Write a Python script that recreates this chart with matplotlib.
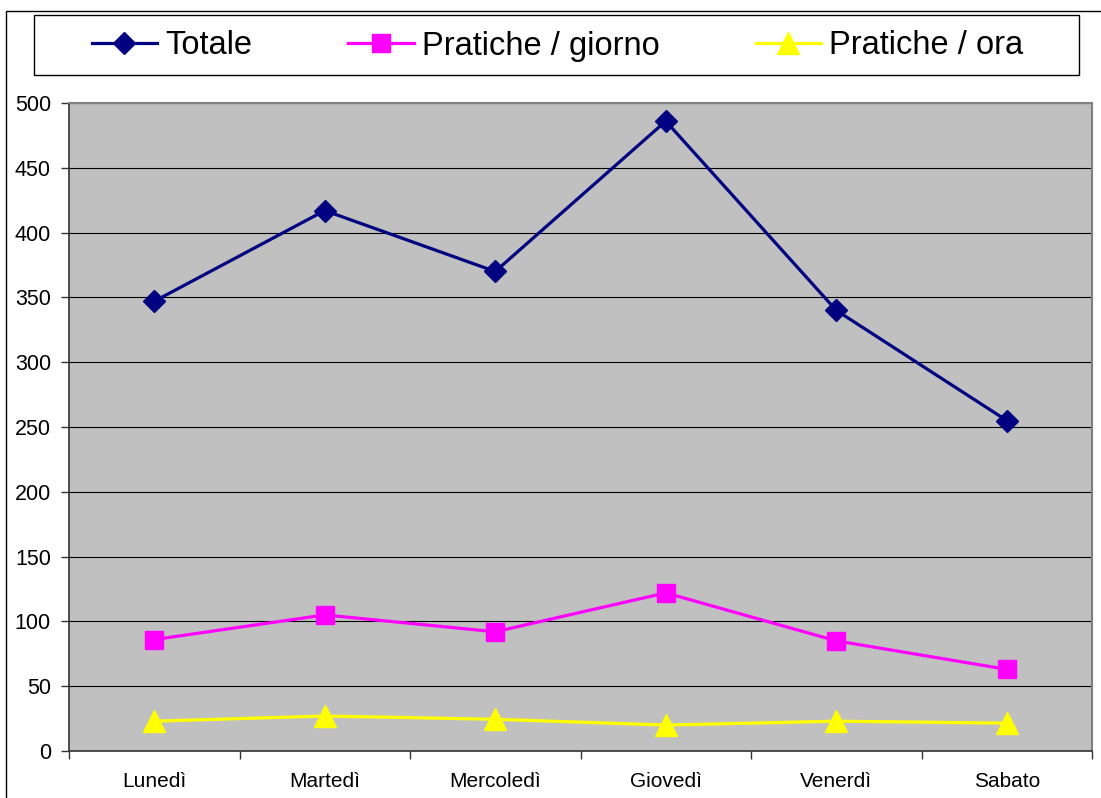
import matplotlib.pyplot as plt
import matplotlib.patches as patches
import numpy as np

plt.rcParams['font.family'] = ['Liberation Sans', 'DejaVu Sans']

giorni = ['Lunedì', 'Martedì', 'Mercoledì', 'Giovedì', 'Venerdì', 'Sabato']
totale = [347, 417, 370, 486, 340, 255]
pratiche_giorno = [86, 105, 92, 122, 85, 63]
pratiche_ora = [23, 27, 24.5, 20, 23, 21.5]

W, H = 1101, 798
fig = plt.figure(figsize=(W / 100, H / 100), dpi=100)
fig.patch.set_facecolor('white')

# chart area border (runs off the right/bottom edge)
fig.patches.append(patches.Rectangle((6 / W, -0.1), 2, 1 - 11 / H + 0.1,
                                     transform=fig.transFigure, fill=False,
                                     edgecolor='black', linewidth=1))

ax = fig.add_axes([69 / W, 47 / H, 1023 / W, 648 / H])
ax.set_facecolor('#c0c0c0')
ind = np.arange(len(giorni))

ax.plot(ind, totale, color='#000080', lw=2.3, marker='D', ms=11, mew=1,
        label='Totale', zorder=3)
ax.plot(ind, pratiche_giorno, color='#ff00ff', lw=2.3, marker='s', ms=13.5, mew=1,
        label='Pratiche / giorno', zorder=3)
ax.plot(ind, pratiche_ora, color='#ffff00', lw=2.3, marker='^', ms=15.5, mew=1,
        label='Pratiche / ora', zorder=3)

ax.set_xlim(-0.5, len(giorni) - 0.5)
ax.set_ylim(0, 500)
ax.set_yticks(np.arange(0, 501, 50))
ax.yaxis.grid(True, color='black', linewidth=0.8)
ax.set_axisbelow(True)

ax.set_xticks(ind)
ax.set_xticklabels(giorni)
ax.set_xticks(np.arange(-0.5, len(giorni)), minor=True)
ax.tick_params(axis='x', which='major', length=0, pad=15, labelsize=15)
ax.tick_params(axis='x', which='minor', length=6, width=1, color='#333333', direction='out')
ax.tick_params(axis='y', length=6, width=1, color='#333333', pad=7, labelsize=15.5)

for side in ['top', 'right']:
    ax.spines[side].set_color('#808080')
    ax.spines[side].set_linewidth(1.5)
for side in ['left', 'bottom']:
    ax.spines[side].set_color('#333333')
    ax.spines[side].set_linewidth(1.2)

# legend box
fig.patches.append(patches.Rectangle((34 / W, 1 - 75 / H), 1045 / W, 60 / H,
                                     transform=fig.transFigure, fill=False,
                                     edgecolor='black', linewidth=1))
fig.legend(loc='center', bbox_to_anchor=(557.5 / W, 1 - 46 / H), ncol=3,
           frameon=False, fontsize=23.5, handlelength=2.0, handletextpad=0.25,
           columnspacing=2.95)

plt.savefig('out.png', dpi=100)
